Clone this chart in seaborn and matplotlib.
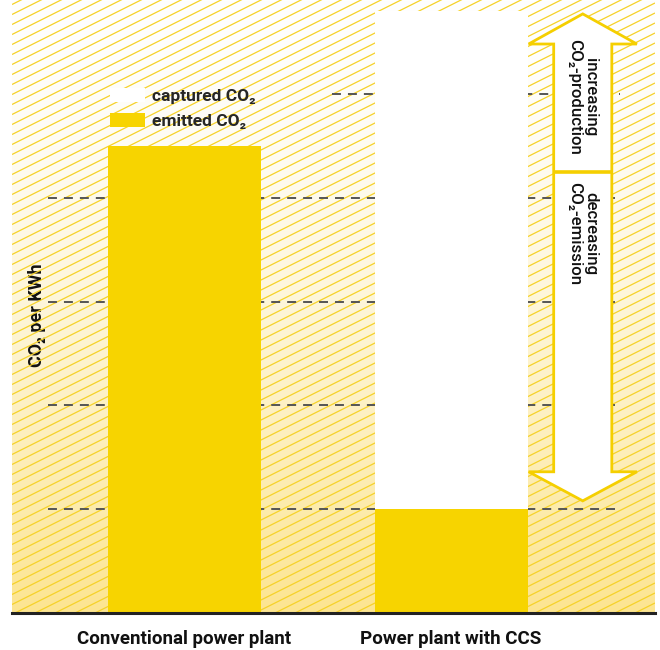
import numpy as np
import matplotlib
matplotlib.use("Agg")
import matplotlib.pyplot as plt
import seaborn as sns
from matplotlib.collections import LineCollection
from matplotlib.patches import Polygon, Patch
import pandas as pd

# ---- data ----
categories = ["Conventional power plant", "Power plant with CCS"]
emitted = [4.5, 1.0]
captured = [0.0, 4.8]
series_labels = ["captured CO₂", "emitted CO₂"]
grid_values = [1, 2, 3, 4, 5]
arrow_texts = ["increasing\nCO₂-production", "decreasing\nCO₂-emission"]
ylabel = "CO₂ per KWh"

YELLOW = "#F7D400"
HATCH = "#F6D22A"

sns.set_theme(style="white")
FONT = ["Roboto", "DejaVu Sans"]
plt.rcParams["font.family"] = FONT

fig = plt.figure(figsize=(6.6, 6.5), dpi=100)
ax = fig.add_axes([12 / 660, 1 - 613 / 650, 643 / 660, 613 / 650])

xmin, xmax = -0.647, 1.765
ymin, ymax = 0.0, 614 / 104
ax.set_xlim(xmin, xmax)
ax.set_ylim(ymin, ymax)

# background gradient
grad = np.linspace(0, 1, 256) ** 1.5
top = np.array([1.0, 1.0, 1.0])
bot = np.array([252, 229, 145]) / 255
img = top[None, None, :] * (1 - grad[:, None, None]) + bot[None, None, :] * grad[:, None, None]
img = img[::-1]
ax.imshow(img, extent=[xmin, xmax, ymin, ymax], aspect="auto", zorder=0, origin="lower")

# diagonal hatching (axes coords)
W, H = 643, 613
slope = 0.5 * W / H
step = 10.0 / H
segs = []
for y0 in np.arange(-slope - step, 1 + step, step):
    segs.append([(0, y0), (1, y0 + slope)])
lc = LineCollection(segs, colors=HATCH, linewidths=0.9, transform=ax.transAxes, zorder=1)
ax.add_collection(lc)

# dashed gridlines
grid_start = [-0.512, -0.512, -0.512, -0.512, 0.552]
ax.hlines(grid_values, grid_start, 1.634, colors="#555555", linestyles=(0, (4.6, 3.6)),
          linewidth=1.4, zorder=2)

# bars
df = pd.DataFrame({"cat": categories,
                   "total": np.array(emitted) + np.array(captured),
                   "emitted": emitted})
sns.barplot(data=df, x="cat", y="total", color="white", saturation=1, width=0.574,
            ax=ax, zorder=3, linewidth=0)
sns.barplot(data=df, x="cat", y="emitted", color=YELLOW, saturation=1, width=0.574,
            ax=ax, zorder=4, linewidth=0)
ax.set_xlim(xmin, xmax)
ax.set_ylim(ymin, ymax)

# double arrow
cx, sh, hh = 1.494, 0.109, 0.203
ytop, yhtop, ymid, yhbot, ybot = 5.77, 5.48, 4.25, 1.36, 1.08
verts = [(cx, ytop), (cx + hh, yhtop), (cx + sh, yhtop), (cx + sh, yhbot), (cx + hh, yhbot),
         (cx, ybot), (cx - hh, yhbot), (cx - sh, yhbot), (cx - sh, yhtop), (cx - hh, yhtop)]
ax.add_patch(Polygon(verts, closed=True, facecolor="white", edgecolor="#F5CF00",
                     linewidth=2.0, zorder=5, joinstyle="miter"))
ax.plot([cx - sh, cx + sh], [ymid, ymid], color="#F5CF00", linewidth=2.6, zorder=6,
        solid_capstyle="butt")
ax.text(cx, yhtop + 0.05, arrow_texts[0], rotation=-90, ha="center", va="top",
        fontsize=12.2, color="#111111", zorder=7, linespacing=1.05, fontweight="medium")
ax.text(cx, ymid - 0.1, arrow_texts[1], rotation=-90, ha="center", va="top",
        fontsize=12.2, color="#111111", zorder=7, linespacing=1.05, fontweight="medium")

# legend
handles = [Patch(facecolor="white", edgecolor="none"), Patch(facecolor=YELLOW, edgecolor="none")]
leg = ax.legend(handles, series_labels, loc="upper left",
                bbox_to_anchor=((110 - 12) / W, 1 - 88 / H), frameon=False,
                prop={"family": FONT, "size": 12.5, "weight": "bold"},
                handlelength=2.0, handleheight=0.85, handletextpad=0.4,
                labelspacing=0.55, borderpad=0, borderaxespad=0)
leg.set_zorder(8)

# axes styling
for s in ["top", "right", "left"]:
    ax.spines[s].set_visible(False)
ax.spines["bottom"].set_color("#222222")
ax.spines["bottom"].set_linewidth(2.2)
ax.spines["bottom"].set_zorder(9)
ax.set_yticks([])
ax.set_xlabel("")
ax.tick_params(axis="x", length=0, pad=12, labelsize=13.5, labelcolor="#111111")
for t in ax.get_xticklabels():
    t.set_fontweight("bold")
ax.set_ylabel(ylabel, fontsize=13, fontweight="bold", color="#111111")
ax.yaxis.set_label_coords((46 - 12) / W, 1 - 315 / H)

fig.savefig("out.png", dpi=100)
